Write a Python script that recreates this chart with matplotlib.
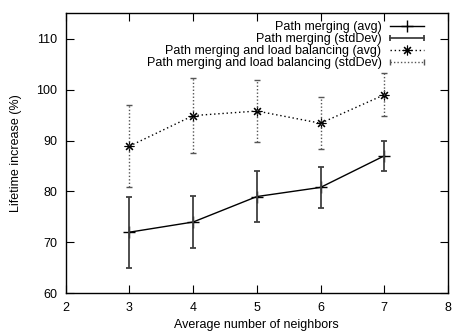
import matplotlib
matplotlib.use('Agg')
import matplotlib.pyplot as plt
from matplotlib.lines import Line2D
from matplotlib.legend_handler import HandlerLine2D

plt.rcParams['font.family'] = ['Liberation Sans', 'DejaVu Sans']
plt.rcParams['font.size'] = 9

neighbors = [3, 4, 5, 6, 7]
merge_avg = [72.0, 74.0, 79.0, 80.8, 87.0]
merge_std = [7.0, 5.2, 5.0, 4.1, 3.0]
balance_avg = [88.9, 94.9, 95.8, 93.4, 99.0]
balance_std = [8.0, 7.4, 6.0, 5.1, 4.2]

labels = ['Path merging (avg)', 'Path merging (stdDev)',
          'Path merging and load balancing (avg)',
          'Path merging and load balancing (stdDev)']

asterisk = (8, 2, 0)

fig = plt.figure(figsize=(4.54, 3.32), dpi=100)
ax = fig.add_axes([0.1447, 0.1166, 0.8421, 0.8434])

ax.plot(neighbors, merge_avg, color='black', lw=1.0, marker='+', ms=8, mew=1.0)
ax.errorbar(neighbors, merge_avg, yerr=merge_std, fmt='none', ecolor='#404040',
            elinewidth=1.3, capsize=2.2, capthick=1.3)
ax.plot(neighbors, balance_avg, color='black', lw=1.0, ls=(0, (1, 2)),
        marker=asterisk, ms=7, mew=0.8)
eb2 = ax.errorbar(neighbors, balance_avg, yerr=balance_std, fmt='none', ecolor='#555555',
                  elinewidth=1.0, capsize=2.2, capthick=1.0)
for c in eb2[2]:
    c.set_linestyle((0, (1, 1.5)))

ax.set_xlim(2, 8)
ax.set_ylim(60, 115)
ax.set_xticks(range(2, 9))
ax.set_yticks(range(60, 111, 10))
ax.tick_params(direction='in', length=5.5, width=0.8, top=True, right=True,
               labelsize=9, pad=6)
for s in ax.spines.values():
    s.set_linewidth(1.0)

ax.set_xlabel('Average number of neighbors', fontsize=9, labelpad=4)
ax.set_ylabel('Lifetime increase (%)', fontsize=9, labelpad=10)

h1 = Line2D([], [], color='black', lw=1.0, marker='+', ms=8, mew=1.0)
h2 = Line2D([], [], color='#404040', lw=1.3, marker='|', ms=5, mew=1.3)
h3 = Line2D([], [], color='black', lw=1.0, ls=(0, (1, 2)), marker=asterisk, ms=7, mew=0.8)
h4 = Line2D([], [], color='#555555', lw=1.0, ls=(0, (1, 1.5)), marker='|', ms=5, mew=1.0)

leg = ax.legend([h1, h2, h3, h4], labels, loc='upper right',
                bbox_to_anchor=(0.937, 0.972), frameon=False, markerfirst=False,
                handlelength=2.7, handletextpad=0.7, labelspacing=0.0,
                borderpad=0, borderaxespad=0, fontsize=9,
                handler_map={h1: HandlerLine2D(numpoints=1),
                             h2: HandlerLine2D(numpoints=2, marker_pad=0),
                             h3: HandlerLine2D(numpoints=1),
                             h4: HandlerLine2D(numpoints=2, marker_pad=0)})
for t in leg.get_texts():
    t.set_ha('right')
leg._legend_box.align = 'right'

fig.savefig('out.png', dpi=100)
